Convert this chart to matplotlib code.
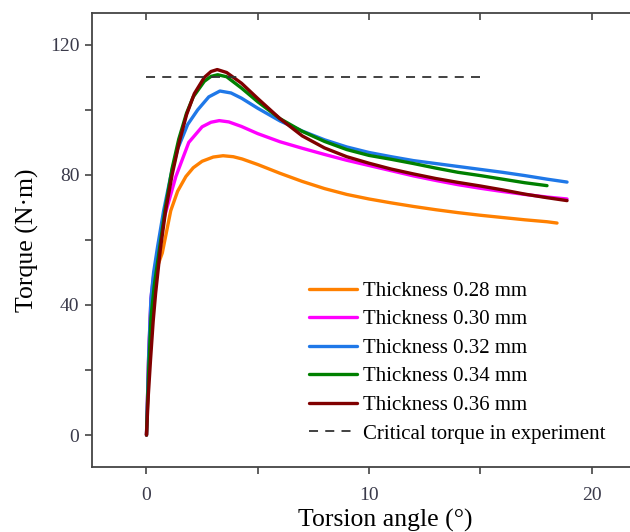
import matplotlib
matplotlib.use("Agg")
from matplotlib import pyplot as plt
from matplotlib.ticker import MultipleLocator

plt.rcParams['font.family'] = ['Liberation Serif', 'DejaVu Serif']

# Torque curves (x: torsion angle in degrees, y: torque in N·m)
x_028 = [0, 0.1, 0.2, 0.32, 0.5, 0.71, 1.09, 1.4, 1.77, 2.1, 2.5, 3.0, 3.44, 3.9, 4.3, 5, 6, 7, 8, 9, 10,
         11, 12, 13, 14, 15, 16, 17, 18, 18.45]
y_028 = [0, 24, 40, 47, 52, 56, 69, 75, 79.5, 82.2, 84.2, 85.5, 85.9, 85.6, 84.9, 83.2, 80.5, 78, 75.8, 74,
         72.6, 71.4, 70.3, 69.3, 68.4, 67.6, 66.9, 66.2, 65.6, 65.2]

x_030 = [0, 0.1, 0.2, 0.32, 0.5, 0.8, 1.32, 1.9, 2.5, 2.9, 3.27, 3.7, 4.27, 5, 6, 7, 8, 9, 10,
         11, 12, 13, 14, 15, 16, 17, 18, 18.9]
y_030 = [0, 25, 42, 49, 56, 67, 79.5, 90, 94.8, 96.2, 96.7, 96.3, 94.9, 92.7, 90.2, 88.2, 86.3, 84.5, 82.9,
         81.3, 79.7, 78.3, 77.0, 75.9, 74.9, 74.0, 73.2, 72.6]

x_032 = [0, 0.1, 0.2, 0.32, 0.5, 0.77, 1.1, 1.4, 1.85, 2.3, 2.8, 3.3, 3.8, 4.27, 5, 6, 7, 8, 9, 10,
         11, 12, 13, 14, 15, 16, 17, 18, 18.9]
y_032 = [0, 25, 42, 50, 58, 69, 80, 88, 95.5, 100, 104, 105.8, 105.2, 103.6, 100.5, 96.6, 93.5, 90.8, 88.6,
         86.9, 85.6, 84.4, 83.5, 82.6, 81.7, 80.8, 79.8, 78.7, 77.8]

x_034 = [0, 0.1, 0.2, 0.35, 0.6, 0.85, 1.15, 1.45, 1.8, 2.1, 2.6, 2.9, 3.2, 3.6, 4.27, 5, 6, 7, 8, 9, 10,
         11, 12, 13, 14, 15, 16, 17, 18]
y_034 = [0, 20, 36, 46, 58, 70, 82, 91, 99, 104, 108.8, 110.3, 110.8, 110.2, 106.7, 102.5, 97.3, 93.4, 90.3,
         87.8, 86, 84.8, 83.5, 82.1, 80.8, 79.8, 78.7, 77.6, 76.7]

x_036 = [0, 0.08, 0.18, 0.3, 0.41, 0.62, 0.86, 1.15, 1.47, 1.8, 2.15, 2.6, 2.9, 3.18, 3.6, 4.27, 5, 6, 7,
         8, 9, 10, 11, 12, 13, 14, 15, 16, 17, 18, 18.9]
y_036 = [0, 12, 23, 35, 43.6, 57, 69, 80, 90, 98.5, 105, 110, 111.8, 112.4, 111.5, 108.2, 103.5, 97.3, 92,
         88.3, 85.6, 83.6, 81.8, 80.3, 78.9, 77.7, 76.6, 75.4, 74.1, 73, 72.1]

critical_x = [0, 15]
critical_y = [110, 110]

series = [
    (x_028, y_028, '#FF8000', 'Thickness 0.28 mm'),
    (x_030, y_030, '#FF00FF', 'Thickness 0.30 mm'),
    (x_032, y_032, '#1F78E8', 'Thickness 0.32 mm'),
    (x_034, y_034, '#008000', 'Thickness 0.34 mm'),
    (x_036, y_036, '#800000', 'Thickness 0.36 mm'),
]

fig = plt.figure(figsize=(6.3, 5.32), dpi=100)
ax = fig.add_axes([0.146, 0.122, 0.86, 0.8536])

for xs, ys, col, lab in series:
    ax.plot(xs, ys, color=col, lw=2.4, label=lab, solid_capstyle='round', solid_joinstyle='round')
ax.plot(critical_x, critical_y, color='#333333', lw=1.3, ls=(0, (5, 4)),
        label='Critical torque in experiment')

ax.set_xlim(-2.45, 21.9)
ax.set_ylim(-9.85, 129.8)

ax.xaxis.set_major_locator(MultipleLocator(10))
ax.xaxis.set_minor_locator(MultipleLocator(5))
ax.yaxis.set_major_locator(MultipleLocator(40))
ax.yaxis.set_minor_locator(MultipleLocator(20))

tick_col = '#444444'
ax.tick_params(axis='x', which='both', direction='out', length=5, width=1.2, color=tick_col,
               top=True, labelsize=14, labelcolor='#3a3a4a', pad=9)
ax.tick_params(axis='y', which='both', direction='out', length=5, width=1.2, color=tick_col,
               labelsize=14, labelcolor='#3a3a4a', pad=4)
# top ticks point inward
for t in ax.xaxis.get_major_ticks() + ax.xaxis.get_minor_ticks():
    t.tick2line.set_marker(3)

ax.spines['right'].set_visible(False)
for s in ['left', 'bottom', 'top']:
    ax.spines[s].set_color(tick_col)
    ax.spines[s].set_linewidth(1.3)

ax.set_xlabel('Torsion angle (°)', fontsize=18.5)
ax.xaxis.set_label_coords(0.541, -0.092, transform=ax.transAxes)
ax.xaxis.label.set_va('top')
ax.set_ylabel('Torque (N·m)', fontsize=18.5, labelpad=8)

ax.legend(loc='upper left', bbox_to_anchor=(0.478, 0.487), bbox_transform=fig.transFigure,
          frameon=False, fontsize=15, handlelength=2.3, handletextpad=0.25, labelspacing=0.43,
          borderaxespad=0)

fig.savefig('out.png', dpi=100)
